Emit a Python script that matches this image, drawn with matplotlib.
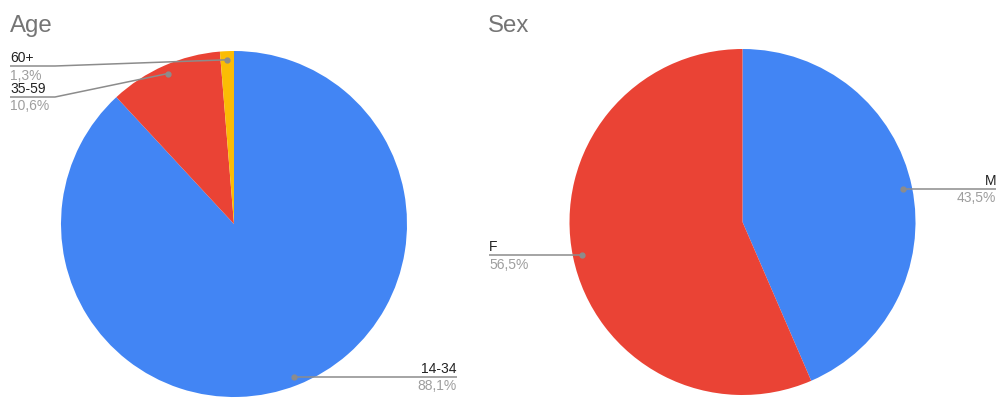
import numpy as np
import matplotlib.pyplot as plt

plt.rcParams['font.family'] = ['Liberation Sans', 'DejaVu Sans']

# Age breakdown
age_labels = ['14-34', '35-59', '60+']
age_values = [88.1, 10.6, 1.3]
age_colors = ['#4285F4', '#EA4335', '#FBBC04']

# Sex breakdown
sex_labels = ['M', 'F']
sex_values = [43.5, 56.5]
sex_colors = ['#4285F4', '#EA4335']

W, H = 998, 398
LINE = '#8c8c8c'


def Y(y):
    # image-style y (from top) to axes y
    return H - y


fig = plt.figure(figsize=(W / 100, H / 100), dpi=100)
ax = fig.add_axes([0, 0, 1, 1])


def draw_pie(values, colors, cx, cy, r):
    ax.pie(values, colors=colors, startangle=90, counterclock=False,
           center=(cx, Y(cy)), radius=r,
           wedgeprops=dict(linewidth=0))
    # mid angle of each wedge, and the dot sitting inside it
    fr = np.cumsum([0] + list(values)) / sum(values)
    mids = 90 - 360 * (fr[:-1] + fr[1:]) / 2
    pts = [(cx + 0.95 * r * np.cos(np.radians(a)),
            Y(cy) + 0.95 * r * np.sin(np.radians(a))) for a in mids]
    return pts


def label(pt, text, pct, x_end, y_line, elbow=None, ha='left'):
    px, py = pt
    yl = Y(y_line) if y_line is not None else py
    if elbow is None:
        xs, ys = [px, x_end], [py, yl]
    else:
        xs, ys = [px, elbow, x_end], [py, yl, yl]
    ax.plot(xs, ys, color=LINE, lw=1.1, solid_capstyle='butt', zorder=3)
    ax.plot(px, py, 'o', color=LINE, ms=3.5, zorder=4)
    ax.text(x_end, yl + 4, text, ha=ha, va='baseline', fontsize=10, color='#222222')
    ax.text(x_end, yl - 13.5, pct, ha=ha, va='baseline', fontsize=10, color='#9e9e9e')


age_pts = draw_pie(age_values, age_colors, 234, 224, 173)
sex_pts = draw_pie(sex_values, sex_colors, 742.5, 222, 173)

fmt = lambda v: f'{v:.1f}%'.replace('.', ',')

label(age_pts[0], age_labels[0], fmt(age_values[0]), 457, None, ha='right')
label(age_pts[1], age_labels[1], fmt(age_values[1]), 10, 97, elbow=55)
label(age_pts[2], age_labels[2], fmt(age_values[2]), 10, 66, elbow=55)

label(sex_pts[0], sex_labels[0], fmt(sex_values[0]), 996, None, ha='right')
label(sex_pts[1], sex_labels[1], fmt(sex_values[1]), 489, None)

ax.text(10, Y(32), 'Age', fontsize=17.3, color='#757575', va='baseline')
ax.text(488, Y(32), 'Sex', fontsize=17.3, color='#757575', va='baseline')

ax.set_xlim(0, W)
ax.set_ylim(0, H)
ax.set_aspect('equal')
ax.axis('off')

fig.savefig('out.png', dpi=100)
